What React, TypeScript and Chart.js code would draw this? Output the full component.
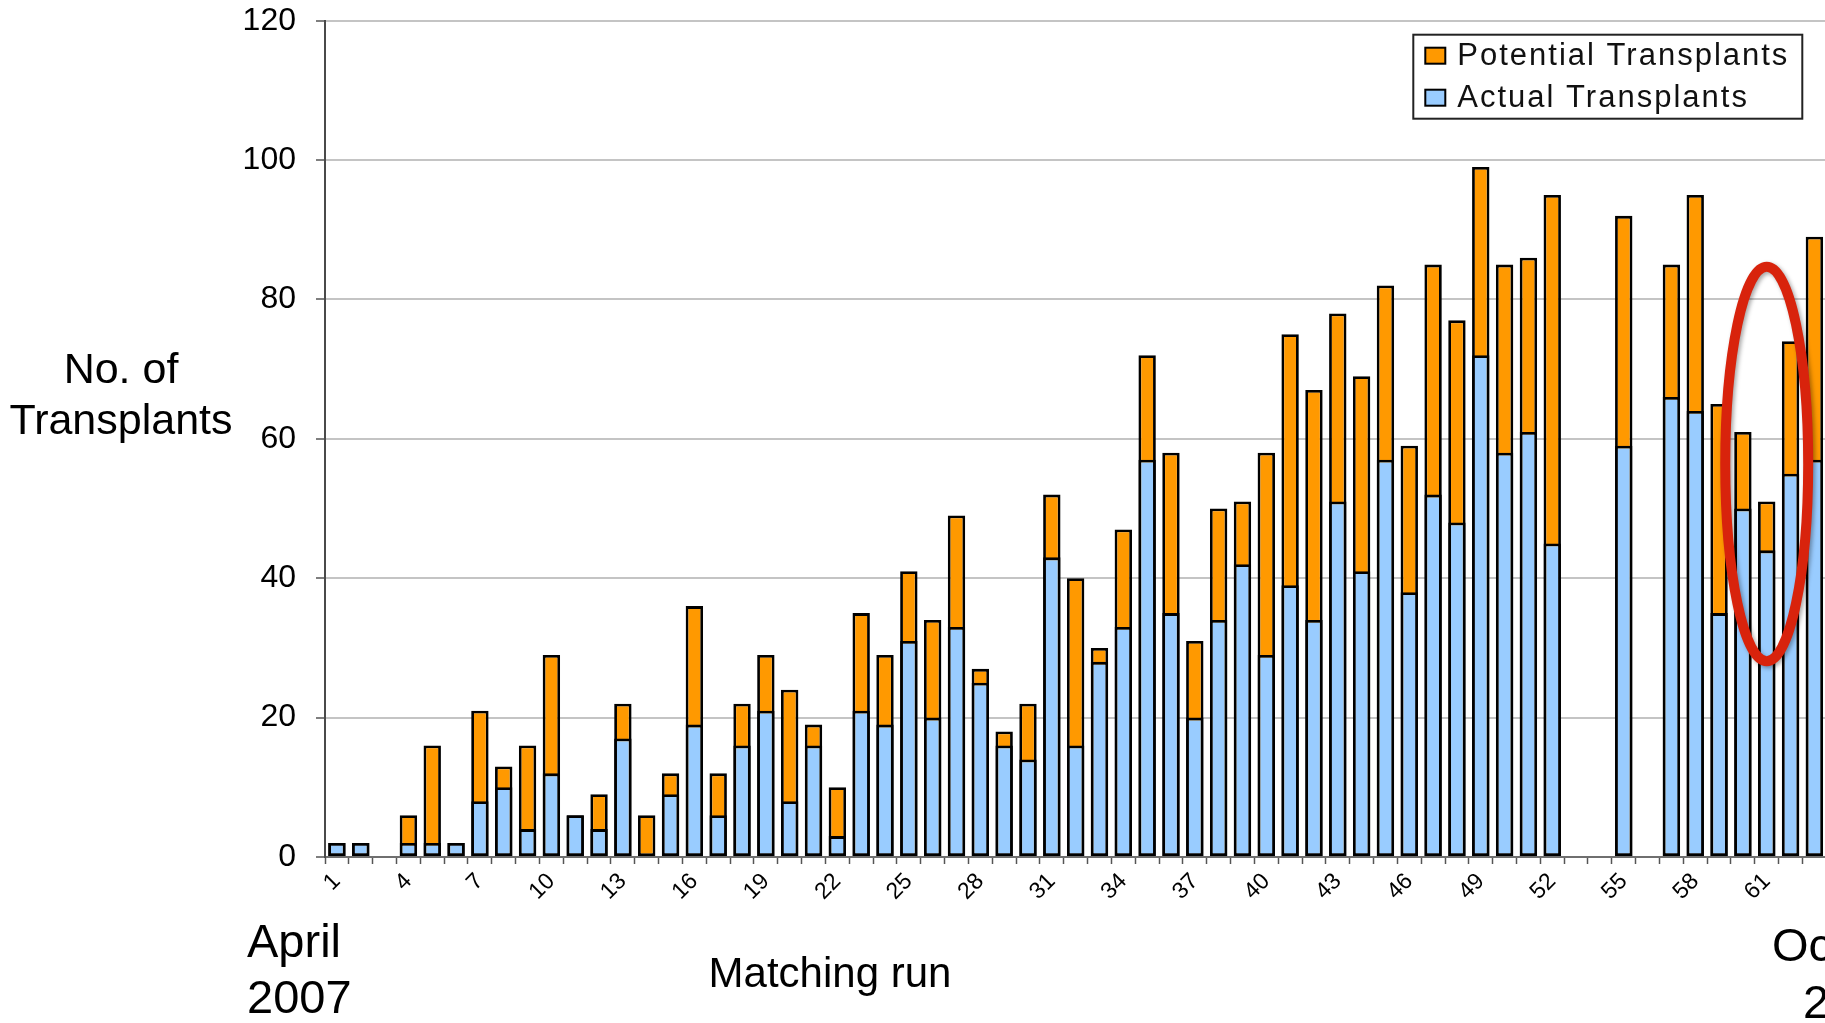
import React, { useEffect, useRef } from 'react';
import { Chart, registerables } from 'chart.js';

Chart.register(...registerables);

const FONT = '"Liberation Sans", Arial, Helvetica, sans-serif';

// Matching runs (categories)
const runs = [
  '1', '2', '3', '4', '5', '6', '7', '8', '9', '10',
  '11', '12', '13', '14', '15', '16', '17', '18', '19', '20',
  '21', '22', '23', '24', '25', '26', '27', '28', '29', '30',
  '31', '32', '33', '34', '35', '36', '37', '38', '39', '40',
  '41', '42', '43', '44', '45', '46', '47', '48', '49', '50',
  '51', '52', '53', '54', '55', '56', '57', '58', '59', '60',
  '61', '62', '63',
];

// Tick labels that are printed under the axis
const shownRunLabels = [
  '1', '4', '7', '10', '13', '16', '19', '22', '25', '28', '31',
  '34', '37', '40', '43', '46', '49', '52', '55', '58', '61',
];

// Actual transplants (blue)
const actualTransplants = [
  2, 2, null, 2, 2, 2, 8, 10, 4, 12,
  6, 4, 17, 0, 9, 19, 6, 16, 21, 8,
  16, 3, 21, 19, 31, 20, 33, 25, 16, 14,
  43, 16, 28, 33, 57, 35, 20, 34, 42, 29,
  39, 34, 51, 41, 57, 38, 52, 48, 72, 58,
  61, 45, null, null, 59, null, 66, 64, 35, 50,
  44, 55, 57,
];

// Potential transplants (top of orange bar)
const potentialTransplants = [
  2, 2, null, 6, 16, 2, 21, 13, 16, 29,
  6, 9, 22, 6, 12, 36, 12, 22, 29, 24,
  19, 10, 35, 29, 41, 34, 49, 27, 18, 22,
  52, 40, 30, 47, 72, 58, 31, 50, 51, 58,
  75, 67, 78, 69, 82, 59, 85, 77, 99, 85,
  86, 95, null, null, 92, null, 85, 95, 65, 61,
  51, 74, 89,
];

const yMin = 0;
const yMax = 120;
const yStep = 20;

const legendItems = ['Potential Transplants', 'Actual Transplants'];
const legendColors = ['#ff9900', '#99ccff'];

// highlighted region (red ellipse), in data units
const highlightRunIndex = 60;
const highlightCenterValue = 56.4;
const highlightHalfHeight = 28.3;
const highlightHalfWidthCats = 1.74;

const overlayPlugin = {
  id: 'overlay',
  afterDatasetsDraw(chart: any) {
    const { ctx, scales } = chart;
    const x = scales.x;
    const y = scales.y;
    const cw = x.getPixelForValue(1) - x.getPixelForValue(0);
    const cx = x.getPixelForValue(highlightRunIndex);
    const cy = y.getPixelForValue(highlightCenterValue);
    const ry = y.getPixelForValue(highlightCenterValue - highlightHalfHeight) - cy;
    const rx = highlightHalfWidthCats * cw;
    ctx.save();
    ctx.shadowColor = 'rgba(0,0,0,0.35)';
    ctx.shadowBlur = 4;
    ctx.shadowOffsetX = 2;
    ctx.shadowOffsetY = 2;
    ctx.strokeStyle = '#d8230c';
    ctx.lineWidth = 10;
    ctx.beginPath();
    ctx.ellipse(cx, cy, rx, ry, 0, 0, Math.PI * 2);
    ctx.stroke();
    ctx.restore();
  },
  afterDraw(chart: any) {
    const { ctx, chartArea } = chart;
    ctx.save();
    // legend box
    const bx = chartArea.right - 413;
    const by = chartArea.top + 14;
    const bw = 389;
    const bh = 84;
    ctx.fillStyle = '#ffffff';
    ctx.fillRect(bx, by, bw, bh);
    ctx.strokeStyle = '#222';
    ctx.lineWidth = 2;
    ctx.strokeRect(bx, by, bw, bh);
    ctx.font = `31px ${FONT}`;
    (ctx as any).letterSpacing = '2px';
    ctx.textBaseline = 'middle';
    ctx.textAlign = 'left';
    legendItems.forEach((label, i) => {
      const rowY = by + 21 + i * 42;
      ctx.fillStyle = legendColors[i];
      ctx.fillRect(bx + 12, rowY - 8, 20, 16);
      ctx.strokeStyle = '#000';
      ctx.lineWidth = 2;
      ctx.strokeRect(bx + 12, rowY - 8, 20, 16);
      ctx.fillStyle = '#111';
      ctx.fillText(label, bx + 44, rowY + 1);
    });
    (ctx as any).letterSpacing = '0px';

    // axis titles and date notes
    ctx.fillStyle = '#000';
    ctx.textBaseline = 'alphabetic';
    ctx.font = `43px ${FONT}`;
    ctx.textAlign = 'center';
    ctx.fillText('No. of', 121, 383);
    ctx.fillText('Transplants', 121, 434);
    ctx.font = `42px ${FONT}`;
    ctx.fillText('Matching run', 830, 987);
    ctx.font = `47px ${FONT}`;
    ctx.textAlign = 'left';
    ctx.fillText('April', 247, 957);
    ctx.fillText('2007', 247, 1013);
    ctx.fillText('October', 1772, 961);
    ctx.fillText('2008', 1803, 1018);
    ctx.restore();
  },
};

export default function App() {
  const canvasRef = useRef<HTMLCanvasElement | null>(null);

  useEffect(() => {
    if (!canvasRef.current) return;
    const chart = new Chart(canvasRef.current, {
      type: 'bar',
      data: {
        labels: runs,
        datasets: [
          {
            label: 'Actual Transplants',
            data: actualTransplants,
            backgroundColor: '#99ccff',
            borderColor: '#000000',
            borderWidth: 2.8,
            borderSkipped: false,
            barPercentage: 0.73,
            categoryPercentage: 1,
          },
          {
            label: 'Potential Transplants',
            data: potentialTransplants,
            backgroundColor: '#ff9900',
            borderColor: '#000000',
            borderWidth: 2.8,
            borderSkipped: false,
            barPercentage: 0.73,
            categoryPercentage: 1,
          },
        ],
      } as any,
      options: {
        responsive: false,
        animation: false,
        devicePixelRatio: 1,
        layout: { padding: { top: 20.7, right: 3.7, left: 0, bottom: 0 } },
        plugins: {
          legend: { display: false },
          tooltip: { enabled: false },
        },
        scales: {
          x: {
            stacked: true,
            offset: true,
            grid: {
              offset: true,
              drawOnChartArea: false,
              drawTicks: true,
              tickLength: 7,
              tickColor: '#555',
              tickWidth: 1.5,
            },
            border: { display: true, color: '#6f6f6f', width: 2 },
            ticks: {
              autoSkip: false,
              maxRotation: 45,
              minRotation: 45,
              padding: 4,
              color: '#000',
              font: { family: FONT, size: 23 },
              callback: (_v: any, i: number) =>
                shownRunLabels.includes(runs[i]) ? runs[i] : '',
            },
            afterFit: (s: any) => {
              s.height = 166;
              s.paddingLeft = 0;
              s.paddingRight = 0;
            },
          },
          y: {
            stacked: false,
            min: yMin,
            max: yMax,
            grid: {
              color: '#c4c4c4',
              lineWidth: 2,
              drawTicks: true,
              tickLength: 9,
              tickColor: '#555',
              tickWidth: 1.5,
            },
            border: { display: true, color: '#4a4a4a', width: 2 },
            ticks: {
              stepSize: yStep,
              padding: 20,
              color: '#000',
              font: { family: FONT, size: 32 },
            },
            afterFit: (s: any) => {
              s.width = 325;
              s.paddingTop = 0;
              s.paddingBottom = 0;
            },
          },
        },
      } as any,
      plugins: [overlayPlugin],
    });
    return () => chart.destroy();
  }, []);

  return (
    <div
      style={{
        position: 'fixed',
        left: 0,
        top: 0,
        width: 1825,
        height: 1023,
        overflow: 'hidden',
        background: '#fff',
      }}
    >
      <canvas ref={canvasRef} width={1830} height={1023} style={{ display: 'block' }} />
    </div>
  );
}
